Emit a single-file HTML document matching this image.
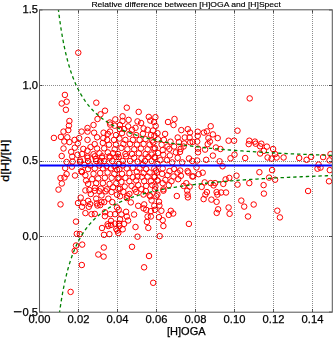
<!DOCTYPE html>
<html><head><meta charset="utf-8"><style>
html,body{margin:0;padding:0;background:#fff;}
svg{display:block;}
text{font-family:"Liberation Sans",sans-serif;}
</style></head><body>
<svg width="335" height="338" viewBox="0 0 335 338">
<rect width="335" height="338" fill="#fff"/>
<defs><clipPath id="ax"><rect x="39.5" y="10.0" width="292.5" height="302.0"/></clipPath></defs>
<g clip-path="url(#ax)">
<g fill="none" stroke="#ff0000" stroke-width="1.0">
<circle cx="78.25" cy="52.70" r="2.75"/>
<circle cx="64.90" cy="94.90" r="2.75"/>
<circle cx="66.70" cy="101.70" r="2.75"/>
<circle cx="61.70" cy="103.50" r="2.75"/>
<circle cx="65.90" cy="109.80" r="2.75"/>
<circle cx="96.30" cy="102.70" r="2.75"/>
<circle cx="105.00" cy="110.70" r="2.75"/>
<circle cx="100.50" cy="114.30" r="2.75"/>
<circle cx="97.50" cy="119.00" r="2.75"/>
<circle cx="109.80" cy="122.50" r="2.75"/>
<circle cx="115.30" cy="119.40" r="2.75"/>
<circle cx="126.80" cy="107.70" r="2.75"/>
<circle cx="138.70" cy="111.90" r="2.75"/>
<circle cx="122.60" cy="116.30" r="2.75"/>
<circle cx="128.60" cy="119.90" r="2.75"/>
<circle cx="122.50" cy="121.00" r="2.75"/>
<circle cx="137.50" cy="121.40" r="2.75"/>
<circle cx="141.10" cy="123.00" r="2.75"/>
<circle cx="150.30" cy="120.60" r="2.75"/>
<circle cx="155.40" cy="117.20" r="2.75"/>
<circle cx="174.50" cy="119.00" r="2.75"/>
<circle cx="168.00" cy="122.00" r="2.75"/>
<circle cx="249.70" cy="98.40" r="2.75"/>
<circle cx="69.40" cy="121.00" r="2.75"/>
<circle cx="68.90" cy="125.60" r="2.75"/>
<circle cx="68.30" cy="130.10" r="2.75"/>
<circle cx="63.50" cy="131.60" r="2.75"/>
<circle cx="53.90" cy="137.90" r="2.75"/>
<circle cx="60.90" cy="136.90" r="2.75"/>
<circle cx="67.30" cy="137.30" r="2.75"/>
<circle cx="64.30" cy="141.50" r="2.75"/>
<circle cx="69.40" cy="142.10" r="2.75"/>
<circle cx="74.60" cy="139.90" r="2.75"/>
<circle cx="63.50" cy="148.50" r="2.75"/>
<circle cx="74.80" cy="147.70" r="2.75"/>
<circle cx="71.20" cy="151.90" r="2.75"/>
<circle cx="61.70" cy="156.00" r="2.75"/>
<circle cx="72.20" cy="156.60" r="2.75"/>
<circle cx="77.50" cy="154.80" r="2.75"/>
<circle cx="77.80" cy="143.50" r="2.75"/>
<circle cx="93.50" cy="125.00" r="2.75"/>
<circle cx="87.50" cy="128.00" r="2.75"/>
<circle cx="87.50" cy="131.60" r="2.75"/>
<circle cx="81.60" cy="131.60" r="2.75"/>
<circle cx="94.10" cy="132.70" r="2.75"/>
<circle cx="79.20" cy="138.10" r="2.75"/>
<circle cx="87.50" cy="139.90" r="2.75"/>
<circle cx="97.10" cy="137.30" r="2.75"/>
<circle cx="103.60" cy="132.70" r="2.75"/>
<circle cx="107.80" cy="133.90" r="2.75"/>
<circle cx="110.00" cy="131.60" r="2.75"/>
<circle cx="110.20" cy="124.60" r="2.75"/>
<circle cx="103.30" cy="138.10" r="2.75"/>
<circle cx="107.20" cy="139.90" r="2.75"/>
<circle cx="94.70" cy="144.10" r="2.75"/>
<circle cx="102.80" cy="142.90" r="2.75"/>
<circle cx="109.00" cy="144.70" r="2.75"/>
<circle cx="83.30" cy="148.90" r="2.75"/>
<circle cx="90.50" cy="147.10" r="2.75"/>
<circle cx="97.10" cy="148.50" r="2.75"/>
<circle cx="104.20" cy="148.30" r="2.75"/>
<circle cx="87.50" cy="150.70" r="2.75"/>
<circle cx="82.10" cy="154.00" r="2.75"/>
<circle cx="93.50" cy="154.20" r="2.75"/>
<circle cx="99.50" cy="153.30" r="2.75"/>
<circle cx="107.80" cy="152.40" r="2.75"/>
<circle cx="87.50" cy="157.80" r="2.75"/>
<circle cx="101.90" cy="157.80" r="2.75"/>
<circle cx="95.90" cy="159.00" r="2.75"/>
<circle cx="109.60" cy="157.80" r="2.75"/>
<circle cx="173.50" cy="125.00" r="2.75"/>
<circle cx="181.30" cy="130.10" r="2.75"/>
<circle cx="187.80" cy="129.20" r="2.75"/>
<circle cx="190.00" cy="132.50" r="2.75"/>
<circle cx="165.10" cy="133.90" r="2.75"/>
<circle cx="154.40" cy="135.70" r="2.75"/>
<circle cx="177.70" cy="137.50" r="2.75"/>
<circle cx="184.80" cy="137.50" r="2.75"/>
<circle cx="189.60" cy="137.50" r="2.75"/>
<circle cx="170.50" cy="141.70" r="2.75"/>
<circle cx="178.90" cy="142.10" r="2.75"/>
<circle cx="184.20" cy="143.50" r="2.75"/>
<circle cx="190.20" cy="142.30" r="2.75"/>
<circle cx="163.90" cy="139.90" r="2.75"/>
<circle cx="158.00" cy="139.30" r="2.75"/>
<circle cx="153.20" cy="142.30" r="2.75"/>
<circle cx="161.60" cy="144.70" r="2.75"/>
<circle cx="167.50" cy="146.50" r="2.75"/>
<circle cx="174.10" cy="146.50" r="2.75"/>
<circle cx="183.60" cy="146.50" r="2.75"/>
<circle cx="180.70" cy="148.90" r="2.75"/>
<circle cx="155.00" cy="148.30" r="2.75"/>
<circle cx="162.70" cy="150.10" r="2.75"/>
<circle cx="169.30" cy="148.90" r="2.75"/>
<circle cx="175.90" cy="152.40" r="2.75"/>
<circle cx="180.00" cy="151.90" r="2.75"/>
<circle cx="158.00" cy="153.00" r="2.75"/>
<circle cx="163.30" cy="154.80" r="2.75"/>
<circle cx="169.90" cy="155.40" r="2.75"/>
<circle cx="154.40" cy="157.20" r="2.75"/>
<circle cx="177.70" cy="157.80" r="2.75"/>
<circle cx="189.00" cy="158.40" r="2.75"/>
<circle cx="160.40" cy="160.20" r="2.75"/>
<circle cx="166.90" cy="160.20" r="2.75"/>
<circle cx="210.70" cy="126.20" r="2.75"/>
<circle cx="197.70" cy="131.70" r="2.75"/>
<circle cx="203.90" cy="132.60" r="2.75"/>
<circle cx="206.90" cy="131.40" r="2.75"/>
<circle cx="212.90" cy="134.40" r="2.75"/>
<circle cx="197.70" cy="135.90" r="2.75"/>
<circle cx="192.70" cy="141.90" r="2.75"/>
<circle cx="208.40" cy="138.10" r="2.75"/>
<circle cx="217.70" cy="138.10" r="2.75"/>
<circle cx="209.90" cy="141.60" r="2.75"/>
<circle cx="197.20" cy="141.60" r="2.75"/>
<circle cx="207.70" cy="144.10" r="2.75"/>
<circle cx="228.60" cy="140.70" r="2.75"/>
<circle cx="234.10" cy="140.70" r="2.75"/>
<circle cx="237.50" cy="130.70" r="2.75"/>
<circle cx="198.00" cy="148.60" r="2.75"/>
<circle cx="205.10" cy="149.60" r="2.75"/>
<circle cx="215.90" cy="147.50" r="2.75"/>
<circle cx="220.40" cy="149.00" r="2.75"/>
<circle cx="198.00" cy="152.30" r="2.75"/>
<circle cx="212.90" cy="155.60" r="2.75"/>
<circle cx="234.50" cy="154.60" r="2.75"/>
<circle cx="230.50" cy="158.30" r="2.75"/>
<circle cx="197.20" cy="160.50" r="2.75"/>
<circle cx="206.20" cy="159.80" r="2.75"/>
<circle cx="219.60" cy="161.30" r="2.75"/>
<circle cx="249.30" cy="140.70" r="2.75"/>
<circle cx="248.70" cy="144.10" r="2.75"/>
<circle cx="254.90" cy="141.60" r="2.75"/>
<circle cx="255.70" cy="143.70" r="2.75"/>
<circle cx="261.30" cy="143.70" r="2.75"/>
<circle cx="260.10" cy="146.30" r="2.75"/>
<circle cx="266.90" cy="146.60" r="2.75"/>
<circle cx="263.90" cy="150.80" r="2.75"/>
<circle cx="260.10" cy="153.50" r="2.75"/>
<circle cx="273.10" cy="149.00" r="2.75"/>
<circle cx="275.10" cy="154.10" r="2.75"/>
<circle cx="267.60" cy="157.50" r="2.75"/>
<circle cx="271.60" cy="158.60" r="2.75"/>
<circle cx="276.60" cy="157.50" r="2.75"/>
<circle cx="283.60" cy="157.50" r="2.75"/>
<circle cx="245.20" cy="158.00" r="2.75"/>
<circle cx="299.20" cy="158.00" r="2.75"/>
<circle cx="306.60" cy="159.80" r="2.75"/>
<circle cx="311.10" cy="156.80" r="2.75"/>
<circle cx="323.10" cy="157.10" r="2.75"/>
<circle cx="330.50" cy="154.10" r="2.75"/>
<circle cx="329.50" cy="160.40" r="2.75"/>
<circle cx="318.60" cy="164.60" r="2.75"/>
<circle cx="317.50" cy="168.70" r="2.75"/>
<circle cx="320.50" cy="167.60" r="2.75"/>
<circle cx="329.80" cy="170.10" r="2.75"/>
<circle cx="329.00" cy="181.30" r="2.75"/>
<circle cx="308.10" cy="191.00" r="2.75"/>
<circle cx="259.40" cy="172.20" r="2.75"/>
<circle cx="272.10" cy="170.10" r="2.75"/>
<circle cx="269.10" cy="177.60" r="2.75"/>
<circle cx="275.10" cy="179.70" r="2.75"/>
<circle cx="249.30" cy="183.10" r="2.75"/>
<circle cx="263.60" cy="185.10" r="2.75"/>
<circle cx="263.90" cy="193.60" r="2.75"/>
<circle cx="244.20" cy="206.60" r="2.75"/>
<circle cx="253.70" cy="204.50" r="2.75"/>
<circle cx="196.50" cy="167.50" r="2.75"/>
<circle cx="222.60" cy="166.30" r="2.75"/>
<circle cx="193.20" cy="176.40" r="2.75"/>
<circle cx="198.70" cy="174.20" r="2.75"/>
<circle cx="202.70" cy="172.70" r="2.75"/>
<circle cx="236.50" cy="175.70" r="2.75"/>
<circle cx="229.30" cy="177.90" r="2.75"/>
<circle cx="225.60" cy="179.40" r="2.75"/>
<circle cx="204.70" cy="182.40" r="2.75"/>
<circle cx="210.70" cy="183.10" r="2.75"/>
<circle cx="215.10" cy="183.10" r="2.75"/>
<circle cx="213.60" cy="185.40" r="2.75"/>
<circle cx="223.30" cy="183.90" r="2.75"/>
<circle cx="201.70" cy="186.90" r="2.75"/>
<circle cx="237.50" cy="184.60" r="2.75"/>
<circle cx="206.90" cy="192.10" r="2.75"/>
<circle cx="216.60" cy="192.10" r="2.75"/>
<circle cx="221.10" cy="192.50" r="2.75"/>
<circle cx="226.00" cy="192.50" r="2.75"/>
<circle cx="217.40" cy="194.60" r="2.75"/>
<circle cx="205.40" cy="194.60" r="2.75"/>
<circle cx="203.60" cy="199.10" r="2.75"/>
<circle cx="211.40" cy="199.60" r="2.75"/>
<circle cx="216.60" cy="201.80" r="2.75"/>
<circle cx="241.30" cy="200.60" r="2.75"/>
<circle cx="228.60" cy="207.50" r="2.75"/>
<circle cx="218.10" cy="209.30" r="2.75"/>
<circle cx="216.70" cy="212.90" r="2.75"/>
<circle cx="229.60" cy="213.80" r="2.75"/>
<circle cx="248.00" cy="216.50" r="2.75"/>
<circle cx="277.30" cy="210.70" r="2.75"/>
<circle cx="279.90" cy="217.40" r="2.75"/>
<circle cx="159.70" cy="236.10" r="2.75"/>
<circle cx="153.20" cy="282.80" r="2.75"/>
<circle cx="103.80" cy="247.50" r="2.75"/>
<circle cx="103.60" cy="256.60" r="2.75"/>
<circle cx="132.00" cy="246.80" r="2.75"/>
<circle cx="149.00" cy="256.00" r="2.75"/>
<circle cx="144.10" cy="267.30" r="2.75"/>
<circle cx="76.80" cy="233.80" r="2.75"/>
<circle cx="79.80" cy="234.10" r="2.75"/>
<circle cx="76.00" cy="245.50" r="2.75"/>
<circle cx="74.70" cy="250.90" r="2.75"/>
<circle cx="82.20" cy="244.60" r="2.75"/>
<circle cx="102.00" cy="228.00" r="2.75"/>
<circle cx="108.30" cy="226.00" r="2.75"/>
<circle cx="104.00" cy="234.80" r="2.75"/>
<circle cx="109.40" cy="234.10" r="2.75"/>
<circle cx="98.30" cy="254.50" r="2.75"/>
<circle cx="81.80" cy="265.00" r="2.75"/>
<circle cx="70.60" cy="291.90" r="2.75"/>
<circle cx="66.60" cy="162.00" r="2.75"/>
<circle cx="72.60" cy="161.60" r="2.75"/>
<circle cx="80.00" cy="162.00" r="2.75"/>
<circle cx="65.20" cy="168.10" r="2.75"/>
<circle cx="71.90" cy="166.70" r="2.75"/>
<circle cx="66.60" cy="174.10" r="2.75"/>
<circle cx="75.00" cy="175.50" r="2.75"/>
<circle cx="64.50" cy="177.50" r="2.75"/>
<circle cx="60.50" cy="178.10" r="2.75"/>
<circle cx="82.00" cy="172.10" r="2.75"/>
<circle cx="61.80" cy="183.50" r="2.75"/>
<circle cx="58.50" cy="189.60" r="2.75"/>
<circle cx="80.70" cy="197.60" r="2.75"/>
<circle cx="78.00" cy="203.00" r="2.75"/>
<circle cx="60.50" cy="204.40" r="2.75"/>
<circle cx="76.00" cy="221.60" r="2.75"/>
<circle cx="90.80" cy="194.00" r="2.75"/>
<circle cx="94.80" cy="190.70" r="2.75"/>
<circle cx="99.50" cy="191.30" r="2.75"/>
<circle cx="105.60" cy="191.30" r="2.75"/>
<circle cx="111.60" cy="192.00" r="2.75"/>
<circle cx="117.00" cy="194.70" r="2.75"/>
<circle cx="83.40" cy="202.80" r="2.75"/>
<circle cx="88.10" cy="200.80" r="2.75"/>
<circle cx="96.20" cy="198.70" r="2.75"/>
<circle cx="101.50" cy="195.40" r="2.75"/>
<circle cx="108.30" cy="198.70" r="2.75"/>
<circle cx="101.50" cy="202.10" r="2.75"/>
<circle cx="104.20" cy="202.10" r="2.75"/>
<circle cx="112.30" cy="202.10" r="2.75"/>
<circle cx="90.10" cy="204.10" r="2.75"/>
<circle cx="96.80" cy="203.40" r="2.75"/>
<circle cx="82.00" cy="206.80" r="2.75"/>
<circle cx="88.80" cy="206.80" r="2.75"/>
<circle cx="97.50" cy="205.50" r="2.75"/>
<circle cx="100.20" cy="205.10" r="2.75"/>
<circle cx="85.40" cy="213.10" r="2.75"/>
<circle cx="91.50" cy="214.20" r="2.75"/>
<circle cx="94.80" cy="213.90" r="2.75"/>
<circle cx="104.90" cy="212.20" r="2.75"/>
<circle cx="104.90" cy="216.20" r="2.75"/>
<circle cx="110.30" cy="214.20" r="2.75"/>
<circle cx="115.00" cy="214.20" r="2.75"/>
<circle cx="117.00" cy="207.50" r="2.75"/>
<circle cx="111.00" cy="220.90" r="2.75"/>
<circle cx="107.60" cy="224.30" r="2.75"/>
<circle cx="111.00" cy="224.90" r="2.75"/>
<circle cx="115.00" cy="223.60" r="2.75"/>
<circle cx="116.30" cy="229.00" r="2.75"/>
<circle cx="119.00" cy="223.60" r="2.75"/>
<circle cx="118.30" cy="233.00" r="2.75"/>
<circle cx="120.00" cy="196.30" r="2.75"/>
<circle cx="127.40" cy="195.70" r="2.75"/>
<circle cx="130.80" cy="202.40" r="2.75"/>
<circle cx="138.20" cy="205.80" r="2.75"/>
<circle cx="144.20" cy="204.40" r="2.75"/>
<circle cx="150.30" cy="196.30" r="2.75"/>
<circle cx="151.60" cy="200.40" r="2.75"/>
<circle cx="156.30" cy="196.30" r="2.75"/>
<circle cx="154.30" cy="205.80" r="2.75"/>
<circle cx="159.00" cy="201.70" r="2.75"/>
<circle cx="143.60" cy="208.40" r="2.75"/>
<circle cx="146.20" cy="209.80" r="2.75"/>
<circle cx="150.90" cy="211.10" r="2.75"/>
<circle cx="155.00" cy="209.80" r="2.75"/>
<circle cx="118.70" cy="209.80" r="2.75"/>
<circle cx="126.10" cy="211.80" r="2.75"/>
<circle cx="121.40" cy="214.50" r="2.75"/>
<circle cx="134.10" cy="214.50" r="2.75"/>
<circle cx="126.80" cy="216.50" r="2.75"/>
<circle cx="120.00" cy="219.20" r="2.75"/>
<circle cx="128.10" cy="220.50" r="2.75"/>
<circle cx="147.60" cy="216.50" r="2.75"/>
<circle cx="150.90" cy="216.50" r="2.75"/>
<circle cx="159.00" cy="217.20" r="2.75"/>
<circle cx="146.90" cy="221.90" r="2.75"/>
<circle cx="124.10" cy="223.90" r="2.75"/>
<circle cx="119.40" cy="225.90" r="2.75"/>
<circle cx="148.30" cy="227.90" r="2.75"/>
<circle cx="135.50" cy="227.00" r="2.75"/>
<circle cx="122.70" cy="229.30" r="2.75"/>
<circle cx="117.30" cy="230.60" r="2.75"/>
<circle cx="137.50" cy="236.70" r="2.75"/>
<circle cx="163.40" cy="190.70" r="2.75"/>
<circle cx="176.80" cy="196.00" r="2.75"/>
<circle cx="187.20" cy="190.70" r="2.75"/>
<circle cx="187.60" cy="194.70" r="2.75"/>
<circle cx="187.90" cy="197.40" r="2.75"/>
<circle cx="159.40" cy="205.50" r="2.75"/>
<circle cx="161.40" cy="210.80" r="2.75"/>
<circle cx="170.80" cy="210.80" r="2.75"/>
<circle cx="173.20" cy="213.50" r="2.75"/>
<circle cx="168.80" cy="214.90" r="2.75"/>
<circle cx="162.70" cy="220.20" r="2.75"/>
<circle cx="163.40" cy="226.00" r="2.75"/>
<circle cx="188.90" cy="223.90" r="2.75"/>
<circle cx="172.20" cy="162.40" r="2.75"/>
<circle cx="182.20" cy="162.40" r="2.75"/>
<circle cx="192.30" cy="161.00" r="2.75"/>
<circle cx="156.00" cy="170.50" r="2.75"/>
<circle cx="162.70" cy="168.40" r="2.75"/>
<circle cx="169.50" cy="171.10" r="2.75"/>
<circle cx="174.20" cy="169.10" r="2.75"/>
<circle cx="180.20" cy="170.50" r="2.75"/>
<circle cx="187.60" cy="171.10" r="2.75"/>
<circle cx="177.50" cy="172.50" r="2.75"/>
<circle cx="154.70" cy="176.50" r="2.75"/>
<circle cx="162.10" cy="173.80" r="2.75"/>
<circle cx="167.50" cy="175.20" r="2.75"/>
<circle cx="173.50" cy="176.50" r="2.75"/>
<circle cx="180.90" cy="175.80" r="2.75"/>
<circle cx="188.30" cy="172.50" r="2.75"/>
<circle cx="192.30" cy="176.50" r="2.75"/>
<circle cx="157.40" cy="180.50" r="2.75"/>
<circle cx="165.40" cy="179.90" r="2.75"/>
<circle cx="171.50" cy="181.20" r="2.75"/>
<circle cx="178.20" cy="179.20" r="2.75"/>
<circle cx="162.70" cy="183.20" r="2.75"/>
<circle cx="168.80" cy="185.20" r="2.75"/>
<circle cx="186.30" cy="183.20" r="2.75"/>
<circle cx="183.60" cy="185.90" r="2.75"/>
<circle cx="189.60" cy="186.60" r="2.75"/>
<circle cx="155.40" cy="186.60" r="2.75"/>
<circle cx="163.40" cy="189.30" r="2.75"/>
<circle cx="157.40" cy="194.60" r="2.75"/>
<circle cx="87.40" cy="156.30" r="2.75"/>
<circle cx="94.80" cy="156.30" r="2.75"/>
<circle cx="102.20" cy="156.30" r="2.75"/>
<circle cx="109.60" cy="156.30" r="2.75"/>
<circle cx="116.30" cy="157.00" r="2.75"/>
<circle cx="80.00" cy="160.40" r="2.75"/>
<circle cx="88.10" cy="161.00" r="2.75"/>
<circle cx="96.20" cy="161.00" r="2.75"/>
<circle cx="104.20" cy="161.00" r="2.75"/>
<circle cx="112.30" cy="161.00" r="2.75"/>
<circle cx="81.40" cy="171.10" r="2.75"/>
<circle cx="88.10" cy="169.10" r="2.75"/>
<circle cx="94.80" cy="168.40" r="2.75"/>
<circle cx="102.90" cy="168.40" r="2.75"/>
<circle cx="111.00" cy="168.40" r="2.75"/>
<circle cx="117.00" cy="169.80" r="2.75"/>
<circle cx="85.40" cy="175.20" r="2.75"/>
<circle cx="93.50" cy="173.80" r="2.75"/>
<circle cx="100.20" cy="173.10" r="2.75"/>
<circle cx="107.60" cy="172.50" r="2.75"/>
<circle cx="114.30" cy="173.80" r="2.75"/>
<circle cx="86.10" cy="180.50" r="2.75"/>
<circle cx="92.10" cy="179.20" r="2.75"/>
<circle cx="98.20" cy="178.50" r="2.75"/>
<circle cx="104.90" cy="177.80" r="2.75"/>
<circle cx="111.60" cy="177.80" r="2.75"/>
<circle cx="117.70" cy="178.50" r="2.75"/>
<circle cx="88.10" cy="183.90" r="2.75"/>
<circle cx="96.20" cy="183.20" r="2.75"/>
<circle cx="102.90" cy="183.20" r="2.75"/>
<circle cx="109.60" cy="183.90" r="2.75"/>
<circle cx="116.30" cy="183.20" r="2.75"/>
<circle cx="94.80" cy="187.90" r="2.75"/>
<circle cx="100.90" cy="188.60" r="2.75"/>
<circle cx="106.90" cy="189.30" r="2.75"/>
<circle cx="113.00" cy="187.30" r="2.75"/>
<circle cx="118.30" cy="188.60" r="2.75"/>
<circle cx="89.40" cy="190.00" r="2.75"/>
<circle cx="118.70" cy="157.00" r="2.75"/>
<circle cx="126.10" cy="156.30" r="2.75"/>
<circle cx="134.10" cy="157.70" r="2.75"/>
<circle cx="141.50" cy="158.40" r="2.75"/>
<circle cx="148.30" cy="157.00" r="2.75"/>
<circle cx="155.00" cy="157.70" r="2.75"/>
<circle cx="122.70" cy="161.00" r="2.75"/>
<circle cx="130.10" cy="161.00" r="2.75"/>
<circle cx="137.50" cy="161.70" r="2.75"/>
<circle cx="144.90" cy="161.00" r="2.75"/>
<circle cx="151.60" cy="161.00" r="2.75"/>
<circle cx="119.40" cy="169.10" r="2.75"/>
<circle cx="126.80" cy="168.40" r="2.75"/>
<circle cx="132.80" cy="167.80" r="2.75"/>
<circle cx="139.50" cy="168.40" r="2.75"/>
<circle cx="146.20" cy="169.10" r="2.75"/>
<circle cx="154.30" cy="168.40" r="2.75"/>
<circle cx="122.00" cy="173.80" r="2.75"/>
<circle cx="129.40" cy="173.10" r="2.75"/>
<circle cx="136.80" cy="171.80" r="2.75"/>
<circle cx="143.60" cy="173.10" r="2.75"/>
<circle cx="149.60" cy="172.50" r="2.75"/>
<circle cx="157.00" cy="172.50" r="2.75"/>
<circle cx="118.70" cy="177.80" r="2.75"/>
<circle cx="125.40" cy="177.80" r="2.75"/>
<circle cx="132.80" cy="177.20" r="2.75"/>
<circle cx="137.50" cy="176.50" r="2.75"/>
<circle cx="147.60" cy="176.50" r="2.75"/>
<circle cx="154.30" cy="177.20" r="2.75"/>
<circle cx="121.40" cy="181.90" r="2.75"/>
<circle cx="129.40" cy="181.20" r="2.75"/>
<circle cx="136.20" cy="180.50" r="2.75"/>
<circle cx="144.20" cy="181.20" r="2.75"/>
<circle cx="150.90" cy="181.20" r="2.75"/>
<circle cx="157.70" cy="180.50" r="2.75"/>
<circle cx="124.70" cy="186.60" r="2.75"/>
<circle cx="131.50" cy="185.90" r="2.75"/>
<circle cx="146.20" cy="185.90" r="2.75"/>
<circle cx="152.30" cy="185.20" r="2.75"/>
<circle cx="120.00" cy="188.60" r="2.75"/>
<circle cx="134.80" cy="189.30" r="2.75"/>
<circle cx="155.00" cy="189.30" r="2.75"/>
<circle cx="123.40" cy="191.90" r="2.75"/>
<circle cx="129.40" cy="194.00" r="2.75"/>
<circle cx="136.20" cy="191.90" r="2.75"/>
<circle cx="149.60" cy="195.30" r="2.75"/>
<circle cx="126.80" cy="198.00" r="2.75"/>
<circle cx="114.70" cy="125.70" r="2.75"/>
<circle cx="120.00" cy="125.00" r="2.75"/>
<circle cx="128.10" cy="126.40" r="2.75"/>
<circle cx="135.50" cy="127.80" r="2.75"/>
<circle cx="143.60" cy="128.40" r="2.75"/>
<circle cx="147.60" cy="129.80" r="2.75"/>
<circle cx="153.00" cy="130.50" r="2.75"/>
<circle cx="132.10" cy="129.80" r="2.75"/>
<circle cx="124.10" cy="129.10" r="2.75"/>
<circle cx="116.00" cy="135.10" r="2.75"/>
<circle cx="122.00" cy="133.10" r="2.75"/>
<circle cx="129.50" cy="133.80" r="2.75"/>
<circle cx="136.20" cy="135.10" r="2.75"/>
<circle cx="142.90" cy="133.80" r="2.75"/>
<circle cx="151.00" cy="135.10" r="2.75"/>
<circle cx="114.00" cy="139.90" r="2.75"/>
<circle cx="119.40" cy="138.50" r="2.75"/>
<circle cx="125.40" cy="139.90" r="2.75"/>
<circle cx="132.80" cy="139.90" r="2.75"/>
<circle cx="139.60" cy="139.90" r="2.75"/>
<circle cx="145.60" cy="139.20" r="2.75"/>
<circle cx="152.30" cy="140.50" r="2.75"/>
<circle cx="116.00" cy="144.60" r="2.75"/>
<circle cx="123.40" cy="143.90" r="2.75"/>
<circle cx="130.10" cy="143.90" r="2.75"/>
<circle cx="136.90" cy="144.60" r="2.75"/>
<circle cx="143.60" cy="143.90" r="2.75"/>
<circle cx="149.60" cy="144.60" r="2.75"/>
<circle cx="114.70" cy="149.30" r="2.75"/>
<circle cx="121.40" cy="147.90" r="2.75"/>
<circle cx="127.40" cy="149.30" r="2.75"/>
<circle cx="134.20" cy="149.30" r="2.75"/>
<circle cx="140.90" cy="148.60" r="2.75"/>
<circle cx="147.60" cy="149.30" r="2.75"/>
<circle cx="153.60" cy="148.60" r="2.75"/>
<circle cx="118.00" cy="154.00" r="2.75"/>
<circle cx="125.40" cy="154.00" r="2.75"/>
<circle cx="132.10" cy="154.00" r="2.75"/>
<circle cx="138.90" cy="153.30" r="2.75"/>
<circle cx="145.60" cy="154.00" r="2.75"/>
<circle cx="151.60" cy="154.60" r="2.75"/>
<circle cx="114.48" cy="166.23" r="2.75"/>
<circle cx="85.39" cy="190.43" r="2.75"/>
<circle cx="90.35" cy="165.49" r="2.75"/>
<circle cx="106.50" cy="166.06" r="2.75"/>
<circle cx="100.22" cy="161.56" r="2.75"/>
<circle cx="84.38" cy="164.94" r="2.75"/>
<circle cx="113.14" cy="153.20" r="2.75"/>
<circle cx="99.40" cy="165.51" r="2.75"/>
<circle cx="148.78" cy="116.90" r="2.75"/>
<circle cx="155.67" cy="125.95" r="2.75"/>
<circle cx="119.75" cy="129.10" r="2.75"/>
<circle cx="154.04" cy="122.04" r="2.75"/>
<circle cx="118.89" cy="164.00" r="2.75"/>
<circle cx="141.36" cy="189.19" r="2.75"/>
<circle cx="143.48" cy="194.56" r="2.75"/>
<circle cx="157.47" cy="164.03" r="2.75"/>
<circle cx="122.95" cy="165.41" r="2.75"/>
<circle cx="145.84" cy="191.02" r="2.75"/>
<circle cx="157.51" cy="133.15" r="2.75"/>
<circle cx="138.23" cy="185.11" r="2.75"/>
<circle cx="141.87" cy="176.74" r="2.75"/>
<circle cx="142.85" cy="164.63" r="2.75"/>
</g>
<polyline points="58.44,10.00 58.64,11.64 58.84,13.26 59.05,14.86 59.25,16.44 59.46,18.01 59.68,19.57 59.89,21.10 60.11,22.62 60.33,24.13 60.55,25.61 60.77,27.09 61.00,28.54 61.23,29.99 61.46,31.41 61.69,32.82 61.93,34.22 62.17,35.60 62.41,36.97 62.65,38.32 62.90,39.66 63.15,40.99 63.40,42.30 63.65,43.59 63.91,44.88 64.17,46.15 64.43,47.40 64.70,48.65 64.97,49.88 65.24,51.09 65.51,52.30 65.79,53.49 66.07,54.67 66.35,55.83 66.64,56.99 66.92,58.13 67.22,59.26 67.51,60.38 67.81,61.49 68.11,62.58 68.41,63.66 68.72,64.74 69.03,65.80 69.35,66.85 69.66,67.88 69.99,68.91 70.31,69.93 70.64,70.93 70.97,71.93 71.30,72.91 71.64,73.89 71.98,74.85 72.33,75.81 72.68,76.75 73.03,77.69 73.39,78.61 73.75,79.53 74.11,80.43 74.48,81.33 74.85,82.21 75.23,83.09 75.61,83.96 75.99,84.81 76.38,85.66 76.77,86.50 77.17,87.34 77.57,88.16 77.98,88.97 78.39,89.78 78.80,90.57 79.22,91.36 79.64,92.14 80.07,92.92 80.50,93.68 80.93,94.44 81.38,95.18 81.82,95.92 82.27,96.66 82.73,97.38 83.19,98.10 83.65,98.81 84.12,99.51 84.60,100.20 85.07,100.89 85.56,101.57 86.05,102.24 86.54,102.91 87.05,103.57 87.55,104.22 88.06,104.87 88.58,105.50 89.10,106.14 89.63,106.76 90.16,107.38 90.70,107.99 91.25,108.60 91.80,109.20 92.35,109.79 92.91,110.37 93.48,110.95 94.06,111.53 94.64,112.10 95.22,112.66 95.82,113.22 96.42,113.77 97.02,114.31 97.63,114.85 98.25,115.38 98.88,115.91 99.51,116.43 100.15,116.95 100.79,117.46 101.44,117.97 102.10,118.47 102.77,118.96 103.44,119.45 104.12,119.94 104.81,120.41 105.50,120.89 106.21,121.36 106.92,121.82 107.63,122.28 108.36,122.74 109.09,123.19 109.83,123.63 110.58,124.07 111.34,124.51 112.10,124.94 112.87,125.37 113.65,125.79 114.44,126.21 115.24,126.62 116.04,127.03 116.86,127.44 117.68,127.84 118.51,128.23 119.35,128.63 120.20,129.01 121.06,129.40 121.93,129.78 122.81,130.15 123.69,130.53 124.59,130.89 125.49,131.26 126.41,131.62 127.33,131.98 128.27,132.33 129.21,132.68 130.17,133.02 131.13,133.37 132.11,133.70 133.09,134.04 134.09,134.37 135.09,134.70 136.11,135.02 137.14,135.34 138.18,135.66 139.23,135.97 140.29,136.28 141.36,136.59 142.44,136.90 143.54,137.20 144.64,137.50 145.76,137.79 146.89,138.08 148.04,138.37 149.19,138.66 150.36,138.94 151.54,139.22 152.73,139.49 153.93,139.77 155.15,140.04 156.38,140.31 157.62,140.57 158.88,140.84 160.15,141.09 161.43,141.35 162.73,141.61 164.04,141.86 165.37,142.11 166.71,142.35 168.06,142.60 169.43,142.84 170.81,143.08 172.21,143.31 173.62,143.55 175.05,143.78 176.49,144.01 177.94,144.23 179.42,144.46 180.91,144.68 182.41,144.90 183.93,145.11 185.47,145.33 187.02,145.54 188.59,145.75 190.18,145.96 191.78,146.16 193.40,146.37 195.04,146.57 196.69,146.77 198.36,146.96 200.05,147.16 201.76,147.35 203.49,147.54 205.23,147.73 206.99,147.92 208.78,148.11 210.58,148.29 212.40,148.47 214.24,148.65 216.09,148.83 217.97,149.00 219.87,149.18 221.79,149.35 223.73,149.52 225.69,149.69 227.67,149.85 229.67,150.02 231.70,150.18 233.74,150.34 235.81,150.50 237.89,150.66 240.01,150.81 242.14,150.97 244.29,151.12 246.47,151.27 248.67,151.42 250.90,151.57 253.15,151.72 255.42,151.86 257.72,152.01 260.04,152.15 262.39,152.29 264.76,152.43 267.15,152.57 269.58,152.70 272.02,152.84 274.50,152.97 277.00,153.10 279.52,153.23 282.08,153.36 284.66,153.49 287.26,153.62 289.90,153.74 292.56,153.86 295.26,153.99 297.98,154.11 300.73,154.23 303.51,154.35 306.31,154.46 309.15,154.58 312.02,154.70 314.92,154.81 317.85,154.92 320.81,155.03 323.80,155.14 326.83,155.25 329.89,155.36 332.97,155.47" fill="none" stroke="#008000" stroke-width="1.3" stroke-dasharray="3.4,2.9156" stroke-dashoffset="1.5"/>
<polyline points="59.60,312.00 59.81,310.49 60.02,309.00 60.23,307.52 60.45,306.06 60.67,304.61 60.89,303.18 61.11,301.76 61.33,300.36 61.56,298.97 61.79,297.59 62.02,296.23 62.26,294.89 62.49,293.55 62.73,292.24 62.98,290.93 63.22,289.64 63.47,288.36 63.72,287.09 63.97,285.84 64.22,284.60 64.48,283.38 64.74,282.16 65.00,280.96 65.27,279.77 65.54,278.60 65.81,277.43 66.08,276.28 66.36,275.14 66.64,274.01 66.92,272.89 67.20,271.78 67.49,270.69 67.78,269.61 68.08,268.53 68.38,267.47 68.68,266.42 68.98,265.38 69.29,264.36 69.60,263.34 69.91,262.33 70.23,261.33 70.55,260.35 70.87,259.37 71.19,258.40 71.52,257.45 71.86,256.50 72.19,255.56 72.53,254.63 72.88,253.72 73.23,252.81 73.58,251.91 73.93,251.02 74.29,250.14 74.65,249.27 75.02,248.40 75.39,247.55 75.76,246.70 76.14,245.87 76.52,245.04 76.90,244.22 77.29,243.41 77.69,242.61 78.08,241.81 78.49,241.03 78.89,240.25 79.30,239.48 79.72,238.72 80.13,237.96 80.56,237.22 80.98,236.48 81.42,235.75 81.85,235.03 82.29,234.31 82.74,233.60 83.19,232.90 83.64,232.21 84.10,231.52 84.57,230.84 85.03,230.17 85.51,229.50 85.99,228.84 86.47,228.19 86.96,227.54 87.45,226.90 87.95,226.27 88.46,225.65 88.97,225.03 89.48,224.41 90.00,223.81 90.53,223.21 91.06,222.61 91.59,222.02 92.14,221.44 92.68,220.87 93.24,220.29 93.80,219.73 94.36,219.17 94.93,218.62 95.51,218.07 96.09,217.53 96.68,217.00 97.27,216.46 97.88,215.94 98.48,215.42 99.10,214.91 99.72,214.40 100.34,213.89 100.98,213.40 101.62,212.90 102.26,212.41 102.92,211.93 103.58,211.45 104.24,210.98 104.92,210.51 105.60,210.05 106.29,209.59 106.98,209.13 107.68,208.69 108.39,208.24 109.11,207.80 109.83,207.36 110.56,206.93 111.30,206.51 112.05,206.08 112.81,205.67 113.57,205.25 114.34,204.84 115.12,204.44 115.91,204.04 116.70,203.64 117.50,203.25 118.32,202.86 119.14,202.47 119.96,202.09 120.80,201.72 121.65,201.34 122.50,200.97 123.37,200.61 124.24,200.25 125.12,199.89 126.01,199.54 126.91,199.19 127.82,198.84 128.74,198.50 129.67,198.16 130.61,197.82 131.56,197.49 132.51,197.16 133.48,196.83 134.46,196.51 135.45,196.19 136.45,195.87 137.45,195.56 138.47,195.25 139.50,194.94 140.54,194.64 141.60,194.34 142.66,194.04 143.73,193.75 144.82,193.46 145.91,193.17 147.02,192.89 148.14,192.60 149.27,192.32 150.41,192.05 151.56,191.77 152.73,191.50 153.91,191.24 155.10,190.97 156.30,190.71 157.52,190.45 158.75,190.19 159.99,189.94 161.24,189.69 162.51,189.44 163.79,189.19 165.08,188.95 166.39,188.71 167.71,188.47 169.04,188.23 170.39,188.00 171.75,187.76 173.13,187.54 174.52,187.31 175.92,187.08 177.34,186.86 178.78,186.64 180.23,186.42 181.69,186.21 183.17,185.99 184.66,185.78 186.18,185.57 187.70,185.37 189.24,185.16 190.80,184.96 192.38,184.76 193.97,184.56 195.57,184.37 197.20,184.17 198.84,183.98 200.50,183.79 202.17,183.60 203.87,183.41 205.58,183.23 207.30,183.05 209.05,182.87 210.81,182.69 212.60,182.51 214.40,182.34 216.22,182.16 218.06,181.99 219.91,181.82 221.79,181.65 223.69,181.49 225.61,181.32 227.54,181.16 229.50,181.00 231.48,180.84 233.47,180.68 235.49,180.52 237.53,180.37 239.59,180.22 241.67,180.06 243.78,179.91 245.90,179.77 248.05,179.62 250.22,179.47 252.41,179.33 254.63,179.19 256.87,179.05 259.13,178.91 261.41,178.77 263.72,178.63 266.06,178.50 268.41,178.36 270.80,178.23 273.20,178.10 275.64,177.97 278.09,177.84 280.57,177.71 283.08,177.59 285.62,177.46 288.18,177.34 290.77,177.22 293.38,177.10 296.02,176.98 298.69,176.86 301.39,176.74 304.11,176.63 306.87,176.51 309.65,176.40 312.46,176.29 315.30,176.18 318.17,176.07 321.07,175.96 324.00,175.85 326.96,175.74 329.95,175.64 332.97,175.53" fill="none" stroke="#008000" stroke-width="1.3" stroke-dasharray="3.4,2.9156" stroke-dashoffset="1.8"/>
<line x1="39.5" y1="165.4998" x2="332.0" y2="165.4998" stroke="#0000ff" stroke-width="2"/>
<g stroke="#000" stroke-opacity="0.45" stroke-width="1" stroke-dasharray="1,1">
<line x1="78.5" y1="11" x2="78.5" y2="312.0"/>
<line x1="117.5" y1="11" x2="117.5" y2="312.0"/>
<line x1="156.5" y1="11" x2="156.5" y2="312.0"/>
<line x1="195.5" y1="11" x2="195.5" y2="312.0"/>
<line x1="234.5" y1="11" x2="234.5" y2="312.0"/>
<line x1="273.5" y1="11" x2="273.5" y2="312.0"/>
<line x1="312.5" y1="11" x2="312.5" y2="312.0"/>
<line x1="39" y1="85.5" x2="332.0" y2="85.5"/>
<line x1="39" y1="161.5" x2="332.0" y2="161.5"/>
<line x1="39" y1="236.5" x2="332.0" y2="236.5"/>
</g>
</g>
<g stroke="#000" stroke-width="0.6"><line x1="39.5" y1="312.0" x2="39.5" y2="309.0"/><line x1="39.5" y1="10.0" x2="39.5" y2="13.0"/>
<line x1="78.5" y1="312.0" x2="78.5" y2="309.0"/><line x1="78.5" y1="10.0" x2="78.5" y2="13.0"/>
<line x1="117.5" y1="312.0" x2="117.5" y2="309.0"/><line x1="117.5" y1="10.0" x2="117.5" y2="13.0"/>
<line x1="156.5" y1="312.0" x2="156.5" y2="309.0"/><line x1="156.5" y1="10.0" x2="156.5" y2="13.0"/>
<line x1="195.5" y1="312.0" x2="195.5" y2="309.0"/><line x1="195.5" y1="10.0" x2="195.5" y2="13.0"/>
<line x1="234.5" y1="312.0" x2="234.5" y2="309.0"/><line x1="234.5" y1="10.0" x2="234.5" y2="13.0"/>
<line x1="273.5" y1="312.0" x2="273.5" y2="309.0"/><line x1="273.5" y1="10.0" x2="273.5" y2="13.0"/>
<line x1="312.5" y1="312.0" x2="312.5" y2="309.0"/><line x1="312.5" y1="10.0" x2="312.5" y2="13.0"/>
<line x1="39.5" y1="10.0" x2="42.5" y2="10.0"/><line x1="332.0" y1="10.0" x2="329.0" y2="10.0"/>
<line x1="39.5" y1="85.5" x2="42.5" y2="85.5"/><line x1="332.0" y1="85.5" x2="329.0" y2="85.5"/>
<line x1="39.5" y1="161.5" x2="42.5" y2="161.5"/><line x1="332.0" y1="161.5" x2="329.0" y2="161.5"/>
<line x1="39.5" y1="236.5" x2="42.5" y2="236.5"/><line x1="332.0" y1="236.5" x2="329.0" y2="236.5"/>
<line x1="39.5" y1="312.0" x2="42.5" y2="312.0"/><line x1="332.0" y1="312.0" x2="329.0" y2="312.0"/></g>
<rect x="39.5" y="9.8" width="292.8" height="302.4" fill="none" stroke="#5a5a5a" stroke-width="1.05"/>
<g font-size="11.2" fill="#000" stroke="#000" stroke-width="0.25" style="will-change:transform"><text x="39.50" y="323" text-anchor="middle">0.00</text><text x="78.50" y="323" text-anchor="middle">0.02</text><text x="117.50" y="323" text-anchor="middle">0.04</text><text x="156.50" y="323" text-anchor="middle">0.06</text><text x="195.50" y="323" text-anchor="middle">0.08</text><text x="234.50" y="323" text-anchor="middle">0.10</text><text x="273.50" y="323" text-anchor="middle">0.12</text><text x="312.50" y="323" text-anchor="middle">0.14</text><text x="38" y="13.20" text-anchor="end">1.5</text><text x="38" y="88.70" text-anchor="end">1.0</text><text x="38" y="164.20" text-anchor="end">0.5</text><text x="38" y="239.70" text-anchor="end">0.0</text><text x="38" y="315.70" text-anchor="end">0.5</text><rect x="14" y="311.2" width="7.5" height="1" fill="#000"/></g>
<text x="91.4" y="7.4" font-size="7.6" textLength="189.4" lengthAdjust="spacingAndGlyphs" fill="#000" stroke="#000" stroke-width="0.15">Relative difference between [H]OGA and [H]Spect</text>
<text x="167.0" y="335.3" font-size="10.3" textLength="38.6" lengthAdjust="spacingAndGlyphs" fill="#000" stroke="#000" stroke-width="0.25">[H]OGA</text>
<text transform="translate(8.7,181.7) rotate(-90)" font-size="10.3" textLength="42.1" lengthAdjust="spacingAndGlyphs" fill="#000" stroke="#000" stroke-width="0.25">d[H]/[H]</text>
</svg>
</body></html>
